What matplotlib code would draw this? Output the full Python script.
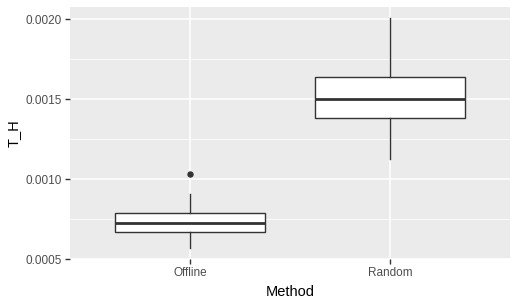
import matplotlib
matplotlib.use("Agg")
import matplotlib.pyplot as plt

methods = ["Offline", "Random"]
whisker_low = [0.000571, 0.001127]
q1 = [0.000667, 0.001379]
median = [0.000727, 0.001498]
q3 = [0.000786, 0.001636]
whisker_high = [0.000908, 0.002004]
outliers = [[0.001029], []]

yticks = [0.0005, 0.0010, 0.0015, 0.0020]
ytick_labels = ["0.0005", "0.0010", "0.0015", "0.0020"]
minor_ticks = [0.00075, 0.00125, 0.00175]

plt.rcParams['font.family'] = ['Liberation Sans', 'DejaVu Sans']

fig = plt.figure(figsize=(5.18, 3.06), dpi=100)
ax = fig.add_axes([70/518, 1 - 259/306, 440/518, 252/306])
ax.set_facecolor("#EBEBEB")

stats = []
for i, m in enumerate(methods):
    stats.append(dict(label=m, whislo=whisker_low[i], q1=q1[i], med=median[i],
                      q3=q3[i], whishi=whisker_high[i], fliers=outliers[i]))

ax.bxp(stats, positions=[1, 2], widths=0.75, patch_artist=True, showcaps=False,
       boxprops=dict(facecolor="white", edgecolor="#333333", linewidth=1.0),
       medianprops=dict(color="#333333", linewidth=2.0),
       whiskerprops=dict(color="#333333", linewidth=1.0),
       flierprops=dict(marker="o", markerfacecolor="#333333", markeredgecolor="#333333",
                       markersize=3.6))

ax.set_xlim(0.4, 2.6)
ax.set_ylim(0.0005, 0.002075)
ax.set_yticks(yticks)
ax.set_yticklabels(ytick_labels)
ax.set_yticks(minor_ticks, minor=True)
ax.set_xticks([1, 2])
ax.set_xticklabels(methods)

ax.grid(True, which="major", color="white", linewidth=1.1)
ax.grid(True, which="minor", axis="y", color="white", linewidth=0.55)
ax.set_axisbelow(True)
for s in ax.spines.values():
    s.set_visible(False)

ax.tick_params(axis="both", which="major", colors="#333333", labelcolor="#4D4D4D",
               labelsize=8.5, length=3.5, width=1.0, pad=2.5)
ax.tick_params(axis="y", which="minor", length=0)

ax.set_xlabel("Method", fontsize=10.5, color="black", labelpad=4)
ax.set_ylabel("T_H", fontsize=10.5, color="black", labelpad=3)

fig.savefig("out.png", dpi=100)
